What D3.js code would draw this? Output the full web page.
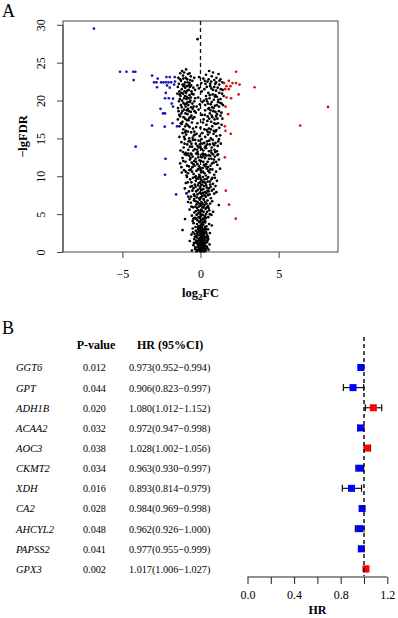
<!DOCTYPE html>
<html lang="en">
<head>
    <meta charset="UTF-8">
    <title>Volcano and forest plot</title>
    <script src="https://cdn.jsdelivr.net/npm/d3@7"></script>
    <style>
        body{
            margin:0;
            background:#fff;
        }
        text{
            font-family: 'Liberation Serif', 'Times New Roman', serif;
            fill:#000;
        }
        .panel{ font-size:18px; }
        .eje{ font-size:12.5px; font-weight:700; }
        .gen{ font-size:10.5px; font-style:italic; }
        .celda{ font-size:10.2px; }
        .cabecera{ font-size:12px; font-weight:700; }
    </style>
</head>
<body>
<div id="grafico"></div>

<script>
// ---- volcano data: [log2FC, -lgFDR] ----
var downGenes = [[-6.82,29.5],[-5.15,23.8],[-4.74,23.8],[-4.30,23.8],[-4.17,23.8],[-4.28,22.7],
    [-3.10,23.3],[-2.74,22.9],[-2.97,22.4],[-2.82,22.4],[-2.52,22.4],[-2.37,22.4],[-2.22,22.4],
    [-2.05,22.4],[-1.88,22.4],[-2.18,23.1],[-1.97,23.1],[-1.65,23.1],[-2.78,21.75],[-2.14,22.0],
    [-1.97,21.7],[-1.63,22.5],[-1.69,22.1],[-2.22,21.0],[-2.27,20.3],[-2.03,20.3],[-1.76,20.25],
    [-1.84,19.6],[-1.76,19.2],[-2.56,18.9],[-2.40,18.3],[-2.27,18.3],[-3.10,16.7],[-2.29,16.55],
    [-1.79,17.0],[-1.50,16.6],[-4.15,13.9],[-2.24,12.3],[-2.27,10.2],[-1.56,7.6],[-0.88,7.75]];

var upGenes = [[2.28,23.8],[1.51,22.3],[1.81,22.6],[2.05,22.3],[2.28,22.3],[2.50,22.1],[1.67,21.9],
    [1.92,21.9],[3.46,21.75],[1.58,21.5],[1.81,21.5],[2.44,20.8],[1.67,20.4],[1.96,20.3],[1.60,19.2],
    [8.16,19.15],[1.77,18.2],[6.38,16.7],[1.56,16.6],[1.60,16.0],[1.94,15.6],[1.56,12.5],[1.62,8.1],
    [1.83,6.25],[2.26,4.4]];

var otherGenes = [[-0.19,28.1],
    // y 22-24
    [-1.42,23.0],[-1.30,23.6],[-1.18,23.9],[-1.05,23.7],[-0.92,24.1],[-0.80,23.5],[-1.25,22.6],[-1.10,22.9],
    [-0.98,22.4],[-0.85,22.8],[-0.70,22.3],[-0.62,23.2],[-1.38,22.2],[-0.52,22.6],[-1.15,22.1],[-0.75,22.0],
    [-0.40,23.0],[0.35,23.4],[0.55,23.9],[0.72,23.2],[0.88,22.7],[1.02,23.0],[1.15,23.5],[1.28,22.8],
    [1.40,22.4],[0.45,22.5],[0.62,22.2],[0.95,22.2],[1.20,22.1],[0.28,22.6],[0.80,23.7],[-0.09,23.1],
    [0.05,22.3],[-0.20,22.0],
    // y 19-22
    [-1.45,21.8],[-1.35,21.2],[-1.28,20.6],[-1.20,21.5],[-1.12,20.9],[-1.05,20.3],[-0.98,21.7],[-0.92,21.0],
    [-0.88,20.5],[-0.82,19.8],[-0.75,21.4],[-0.70,20.7],[-0.65,20.0],[-0.58,21.2],[-0.52,19.6],[-0.45,20.8],
    [-1.38,19.9],[-1.25,19.4],[-1.10,19.7],[-0.95,19.2],[-0.78,19.4],[-0.60,19.1],[-1.32,20.2],[-1.00,20.6],
    [-0.85,21.3],[-1.18,20.0],[-0.68,21.8],[-0.40,19.9],[-1.48,20.9],[-0.35,21.4],[-1.08,21.9],[-0.90,19.6],
    [-0.15,20.4],[0.08,21.2],[-0.05,19.5],[0.12,19.8],
    [0.25,21.5],[0.35,20.6],[0.42,19.9],[0.50,21.0],[0.58,20.3],[0.65,19.5],[0.70,21.6],[0.78,20.8],
    [0.85,20.1],[0.92,19.3],[1.00,21.3],[1.05,20.5],[1.12,19.8],[1.20,21.0],[1.28,20.2],[1.35,19.6],
    [1.42,21.4],[0.30,19.4],[0.55,19.0],[0.88,21.8],[1.18,19.2],[0.62,21.9],[1.48,20.6],[0.75,19.1],
    [0.95,20.7],[0.40,21.8],
    // y 16-19
    [-1.40,18.6],[-1.30,17.9],[-1.22,18.3],[-1.15,17.2],[-1.05,18.8],[-0.98,17.6],[-0.90,16.9],[-0.84,18.2],
    [-0.76,17.4],[-0.70,16.5],[-0.62,18.5],[-0.55,17.1],[-0.48,16.3],[-0.40,17.8],[-1.35,16.6],[-1.10,16.2],
    [-0.95,16.0],[-0.80,16.7],[-0.65,17.8],[-0.30,18.4],[-1.20,16.9],[-0.50,18.9],[-1.45,17.5],[-0.88,18.7],
    [-0.20,17.0],[0.00,16.4],[0.10,18.1],[-0.12,18.8],
    [0.20,17.5],[0.30,18.7],[0.38,16.8],[0.46,17.9],[0.54,16.3],[0.60,18.3],[0.68,17.2],[0.75,16.6],
    [0.82,18.6],[0.90,17.5],[0.98,16.9],[1.05,18.2],[1.12,17.0],[1.20,16.4],[1.28,18.0],[1.35,16.8],
    [0.25,16.2],[0.50,18.9],[0.72,18.0],[1.02,16.1],[1.40,17.6],[0.85,16.0],[0.40,16.1],
    // lobes, second pass
    [-1.44,19.0],[-1.36,18.1],[-1.30,22.8],[-1.26,17.0],[-1.22,21.0],[-1.16,18.6],[-1.12,23.3],[-1.08,17.8],
    [-1.04,22.1],[-1.00,19.5],[-0.96,18.3],[-0.94,23.0],[-0.90,20.2],[-0.86,17.4],[-0.82,22.4],[-0.80,18.9],
    [-0.76,20.3],[-0.72,17.7],[-0.68,19.8],[-0.66,22.7],[-0.62,20.4],[-0.58,18.0],[-0.55,20.9],[-0.50,17.6],
    [-0.46,21.7],[-0.44,19.2],[-0.38,18.6],[-0.34,20.3],[-1.02,21.2],[-1.20,19.1],[-0.74,18.6],[-0.88,21.9],
    [-1.34,20.8],[-0.60,22.0],[-0.98,16.6],[-0.70,23.6],
    [0.22,20.0],[0.28,18.1],[0.32,22.2],[0.38,20.2],[0.44,17.3],[0.48,19.6],[0.52,22.8],[0.56,17.6],
    [0.60,20.7],[0.64,18.7],[0.68,22.5],[0.72,19.8],[0.76,17.8],[0.80,21.4],[0.84,19.0],[0.88,17.0],
    [0.92,20.5],[0.96,18.5],[1.00,22.4],[1.04,19.4],[1.08,17.6],[1.10,21.7],[1.14,20.1],[1.18,18.6],
    [1.22,22.6],[1.26,19.7],[1.30,21.5],[1.34,18.4],[1.38,20.9],[1.44,19.4],[0.66,16.2],[1.00,17.9],
    [-0.25,19.2],[0.15,17.1],[-0.10,21.6],[0.18,22.9],[-0.28,16.5],
    // y 13-16
    [-1.35,15.2],[-1.22,14.5],[-1.15,15.7],[-1.08,13.8],[-1.00,14.9],[-0.92,15.5],[-0.85,14.2],[-0.78,13.5],
    [-0.72,15.0],[-0.66,14.6],[-0.60,15.8],[-0.54,13.9],[-0.48,14.8],[-0.42,15.4],[-0.36,13.6],[-0.30,14.3],
    [-0.25,15.6],[-0.18,13.2],[-0.12,14.7],[-0.06,15.3],[0.00,13.9],[0.06,14.9],[0.12,15.7],[0.18,13.4],
    [0.24,14.4],[0.30,15.2],[0.36,13.7],[0.42,14.6],[0.48,15.5],[0.54,13.3],[0.60,14.2],[0.66,15.0],
    [0.72,13.8],[0.78,14.8],[0.84,15.6],[0.90,13.5],[0.96,14.4],[1.02,15.3],[1.10,14.0],[1.18,14.9],
    [1.26,15.4],[-1.28,13.4],[-0.95,13.1],[-0.62,13.0],[-0.40,15.9],[-0.20,14.0],[0.15,13.0],[0.45,15.9],
    [0.70,13.1],[1.05,13.3],[-0.82,15.9],[-0.50,15.1],[0.33,14.0],[0.88,14.1],[-1.05,15.2],[0.58,15.8],
    [-0.28,13.0],[0.08,13.6],[-0.68,13.9],[1.30,14.3],
    // y 10-13
    [-1.30,11.7],[-1.15,12.4],[-1.05,10.8],[-0.96,11.9],[-0.88,12.8],[-0.80,10.4],[-0.74,11.3],[-0.68,12.2],
    [-0.62,10.9],[-0.56,11.8],[-0.50,12.6],[-0.44,10.3],[-0.38,11.4],[-0.32,12.3],[-0.26,10.7],[-0.20,11.6],
    [-0.14,12.5],[-0.08,10.2],[-0.02,11.1],[0.04,12.0],[0.10,12.9],[0.16,10.6],[0.22,11.5],[0.28,12.4],
    [0.34,10.1],[0.40,11.0],[0.46,11.9],[0.52,12.8],[0.58,10.5],[0.64,11.4],[0.70,12.3],[0.76,10.9],
    [0.84,11.8],[0.92,12.6],[1.00,10.6],[1.08,11.5],[1.18,12.2],[1.25,11.0],[-1.20,10.5],[-0.90,10.1],
    [-0.58,12.9],[-0.30,10.0],[0.05,10.5],[0.30,12.9],[0.62,12.7],[0.88,10.2],[-0.45,11.6],[0.18,11.9],
    [-0.10,11.3],[0.50,10.7],[-0.72,12.7],[0.80,12.9],[-0.16,12.9],[0.36,11.6],[-0.54,10.6],[1.12,12.9],
    [-1.00,12.9],
    // y 10-16, second pass
    [-1.22,11.2],[-1.10,12.0],[-1.02,14.3],[-0.94,10.6],[-0.86,11.4],[-0.80,13.0],[-0.76,14.6],[-0.70,10.8],
    [-0.64,12.4],[-0.58,14.3],[-0.52,11.2],[-0.46,13.4],[-0.40,12.0],[-0.34,14.8],[-0.28,11.9],[-0.22,13.5],
    [-0.16,10.9],[-0.12,13.8],[-0.06,12.1],[-0.04,14.2],[0.02,10.8],[0.08,12.5],[0.12,14.3],[0.14,11.1],
    [0.20,12.7],[0.26,10.4],[0.28,13.8],[0.32,11.3],[0.38,12.7],[0.44,14.2],[0.48,11.2],[0.54,12.3],
    [0.56,14.7],[0.62,10.9],[0.68,13.4],[0.74,11.7],[0.80,14.3],[0.86,12.2],[0.94,13.2],[1.00,11.9],
    [1.08,12.8],[1.14,14.6],[-1.12,13.2],[-0.98,15.8],[0.96,15.9],[-0.36,15.5],
    // y 7-10
    [-1.00,8.4],[-0.90,7.75],[-0.82,9.2],[-0.74,8.0],[-0.66,9.6],[-0.60,7.3],[-0.54,8.7],[-0.48,9.8],
    [-0.42,7.6],[-0.36,8.9],[-0.30,9.4],[-0.24,7.2],[-0.18,8.2],[-0.12,9.1],[-0.06,7.8],[0.00,8.6],
    [0.06,9.5],[0.12,7.4],[0.18,8.3],[0.24,9.2],[0.30,7.9],[0.36,8.8],[0.42,9.7],[0.48,7.5],
    [0.54,8.4],[0.60,9.3],[0.66,7.1],[0.72,8.1],[0.80,9.0],[0.88,7.7],[0.96,8.7],[1.05,9.4],
    [-0.70,7.0],[-0.40,7.0],[-0.10,9.9],[0.20,7.0],[0.50,9.9],[0.76,9.8],[-0.86,9.9],[0.03,7.2],
    [-0.28,8.0],[0.33,7.3],[0.10,8.9],[-0.15,9.7],[0.27,9.6],[-0.52,8.1],[0.65,8.6],[-0.02,9.2],
    [0.45,8.1],[-0.35,9.9],[0.15,9.9],
    [-0.65,8.6],[-0.58,9.2],[-0.45,8.4],[-0.38,7.4],[-0.32,8.6],[-0.26,9.7],[-0.20,7.6],[-0.16,8.8],
    [-0.08,7.1],[-0.04,8.4],[0.02,9.6],[0.04,7.7],[0.08,8.2],[0.14,9.3],[0.16,7.8],[0.22,8.7],
    [0.26,7.5],[0.32,9.1],[0.38,7.8],[0.40,8.5],[0.46,9.3],[0.52,8.0],[0.58,7.6],[0.62,8.9],
    [0.70,9.6],[0.84,8.3],[-0.94,9.1],[-0.78,7.3],[0.92,9.8],[1.02,7.9],
    // y 4-7
    [-0.99,4.35],[-0.70,5.6],[-0.62,6.5],[-0.55,4.8],[-0.48,5.9],[-0.42,6.8],[-0.36,4.5],[-0.30,5.4],
    [-0.25,6.3],[-0.20,4.2],[-0.15,5.1],[-0.10,6.0],[-0.05,6.9],[0.00,4.7],[0.05,5.6],[0.10,6.5],
    [0.15,4.4],[0.20,5.3],[0.25,6.2],[0.30,4.1],[0.35,5.0],[0.40,5.9],[0.45,6.8],[0.50,4.6],
    [0.56,5.5],[0.62,6.4],[0.70,4.9],[0.81,5.3],[1.17,6.2],[-0.80,6.6],[-0.50,4.1],[-0.08,4.0],
    [0.22,6.9],[0.08,4.9],[-0.18,6.6],[0.38,6.4],[-0.33,6.0],[0.28,4.7],[0.60,5.0],[-0.02,5.3],
    [0.12,5.9],[-0.25,4.9],[0.48,6.1],[-0.40,5.2],[0.18,4.0],[0.02,6.2],[-0.12,4.6],[0.32,5.7],
    [-0.58,6.0],[0.75,6.7],
    [0.05,4.2],[-0.05,4.5],[0.14,4.9],[0.24,4.4],[-0.14,5.5],[0.10,5.4],[0.34,4.5],[0.42,5.3],
    [-0.28,4.4],[0.20,5.9],[-0.22,5.8],[0.06,6.6],[0.30,6.6],[-0.08,6.4],[0.52,5.8],[-0.45,4.4],
    [0.16,6.3],[-0.30,6.7],[0.01,5.0],
    // y 2-4
    [-1.15,2.9],[-0.50,3.1],[-0.44,3.8],[-0.38,2.4],[-0.32,3.3],[-0.27,2.1],[-0.22,3.7],[-0.18,2.6],
    [-0.14,3.4],[-0.10,2.2],[-0.06,3.0],[-0.02,3.9],[0.02,2.5],[0.06,3.2],[0.10,2.0],[0.14,2.8],
    [0.18,3.6],[0.22,2.3],[0.26,3.1],[0.30,3.9],[0.34,2.7],[0.38,3.4],[0.42,2.2],[0.48,3.0],
    [0.55,3.7],[0.72,3.5],[0.60,2.5],[-0.58,2.3],[0.00,3.5],[0.12,3.8],[-0.08,2.7],[0.20,2.9],
    [0.04,2.1],[-0.16,3.0],[0.28,2.5],[0.08,3.6],[-0.30,2.8],[0.16,2.4],[-0.04,3.3],[0.36,3.0],
    // y 0-2
    [-0.69,1.45],[-0.45,0.9],[-0.40,1.7],[-0.35,0.4],[-0.30,1.2],[-0.26,0.1],[-0.22,1.9],[-0.18,0.7],
    [-0.14,1.5],[-0.11,0.3],[-0.08,1.1],[-0.05,1.8],[-0.02,0.5],[0.01,1.3],[0.04,0.2],[0.07,1.0],
    [0.10,1.7],[0.13,0.6],[0.16,1.4],[0.19,0.1],[0.22,0.9],[0.25,1.6],[0.28,0.4],[0.32,1.2],
    [0.36,1.9],[0.40,0.7],[0.45,1.5],[0.52,0.3],[0.58,1.0],[-0.55,0.2],[0.00,0.05],[0.05,0.75],
    [0.11,0.15],[-0.06,0.9],[0.18,1.15],[0.08,1.55],[-0.12,0.55],[0.21,0.45],[0.14,1.95],[0.02,1.65],
    [-0.20,1.3],[0.30,0.85],[0.24,0.1],[-0.03,0.25],[0.09,0.45],[0.16,0.8],
    // y 0-4, second pass
    [-0.33,0.6],[-0.28,1.5],[-0.24,0.3],[-0.21,2.4],[-0.17,1.0],[-0.15,3.2],[-0.13,0.2],[-0.10,1.6],
    [-0.09,2.8],[-0.07,0.4],[-0.04,1.2],[-0.03,2.3],[-0.01,3.1],[0.00,0.6],[0.02,1.9],[0.03,2.9],
    [0.05,0.35],[0.06,1.4],[0.07,2.6],[0.09,3.3],[0.10,0.9],[0.12,2.2],[0.13,1.2],[0.15,3.0],
    [0.17,0.5],[0.19,1.8],[0.20,2.6],[0.23,1.3],[0.26,2.0],[0.27,0.7],[0.29,3.3],[0.31,1.6],
    [0.34,0.2],[0.38,2.5],[0.41,1.3],[0.44,0.5],[0.47,2.0],[-0.36,2.0],[-0.42,1.2],[-0.48,2.6],
    [0.50,1.7]];

var volcanoXTicks = [-5, 0, 5];
var volcanoYTicks = [0, 5, 10, 15, 20, 25, 30];

// ---- forest data ----
var genes = ["GGT6","GPT","ADH1B","ACAA2","AOC3","CKMT2","XDH","CA2","AHCYL2","PAPSS2","GPX3"];
var pValues = ["0.012","0.044","0.020","0.032","0.038","0.034","0.016","0.028","0.048","0.041","0.002"];
var hr = [0.973,0.906,1.080,0.972,1.028,0.963,0.893,0.984,0.962,0.977,1.017];
var hrLow = [0.952,0.823,1.012,0.947,1.002,0.930,0.814,0.969,0.926,0.955,1.006];
var hrHigh = [0.994,0.997,1.152,0.998,1.056,0.997,0.979,0.998,1.000,0.999,1.027];
var hrTicks = [0, 0.2, 0.4, 0.6, 0.8, 1.0, 1.2];
var hrTickLabels = ["0.0", "", "0.4", "", "0.8", "", "1.2"];

var w = 398, h = 618;
var fuente = "'Liberation Serif', 'Times New Roman', serif";

var svg = d3.select("#grafico")
    .append("svg")
    .attr("width", w)
    .attr("height", h);

// ================= A: volcano =================
var xScale = d3.scaleLinear().domain([-8.8, 8.8]).range([63, 338]);
var yScale = d3.scaleLinear().domain([0, 30.5]).range([252, 21]);

svg.append("text").attr("class", "panel").attr("x", 2).attr("y", 17).text("A");

// caja
svg.append("rect")
    .attr("x", 63).attr("y", 21)
    .attr("width", 338 - 63).attr("height", 252 - 21)
    .attr("fill", "none").attr("stroke", "#444").attr("stroke-width", 1);

var ejeX = svg.append("g")
    .attr("transform", "translate(0,252)")
    .call(d3.axisBottom(xScale).tickValues(volcanoXTicks)
        .tickFormat(function(d){ return String(d).replace("-", "\u2212"); })
        .tickSize(6).tickPadding(11));
ejeX.select(".domain").remove();

var ejeY = svg.append("g")
    .attr("transform", "translate(63,0)")
    .call(d3.axisLeft(yScale).tickValues(volcanoYTicks).tickSize(6).tickPadding(0));
ejeY.select(".domain").attr("d", "M0," + yScale(0) + "V" + yScale(30));
ejeY.selectAll(".tick text")
    .attr("transform", "rotate(-90)")
    .attr("x", 0).attr("y", -18)
    .attr("dy", "0")
    .attr("text-anchor", "middle");

svg.selectAll(".tick line, .domain").attr("stroke", "#444");
svg.selectAll(".tick text").attr("fill", "#222")
    .style("font-family", fuente).style("font-size", "12px");

// etiquetas de ejes
var labX = svg.append("text").attr("class", "eje")
    .attr("x", xScale(0)).attr("y", 297).attr("text-anchor", "middle");
labX.append("tspan").text("log");
labX.append("tspan").attr("font-size", "9px").attr("dy", 3).text("2");
labX.append("tspan").attr("dy", -3).text("FC");

svg.append("text").attr("class", "eje")
    .attr("transform", "translate(26.5," + ((21 + 252) / 2) + ") rotate(-90)")
    .attr("text-anchor", "middle")
    .text("\u2212lgFDR");

// linea vertical en 0
svg.append("line")
    .attr("x1", xScale(0)).attr("x2", xScale(0))
    .attr("y1", 21).attr("y2", 252)
    .attr("stroke", "#111").attr("stroke-width", 1.3)
    .attr("stroke-dasharray", "4,3");

function puntos(data, color){
    svg.append("g").selectAll("circle")
        .data(data)
        .enter()
        .append("circle")
        .attr("cx", function(d){ return xScale(d[0]); })
        .attr("cy", function(d){ return yScale(d[1]); })
        .attr("r", 1.35)
        .attr("fill", color);
}
puntos(otherGenes, "#000");
puntos(downGenes, "#1414c4");
puntos(upGenes, "#d01414");

// ================= B: forest =================
var hrScale = d3.scaleLinear().domain([0, 1.2]).range([247.5, 387.3]);
var rowScale = d3.scaleBand().domain(genes).range([357.4, 579]).paddingInner(0);
function rowY(g){ return rowScale(g) + rowScale.bandwidth() / 2; }

svg.append("text").attr("class", "panel").attr("x", 2).attr("y", 334).text("B");

svg.append("text").attr("class", "cabecera").attr("x", 96).attr("y", 349).attr("text-anchor", "middle").text("P-value");
svg.append("text").attr("class", "cabecera").attr("x", 137).attr("y", 349).text("HR (95%CI)");

var filas = svg.append("g").selectAll("g")
    .data(genes)
    .enter()
    .append("g")
    .attr("transform", function(d){ return "translate(0," + rowY(d) + ")"; });

filas.append("text").attr("class", "gen").attr("x", 16).attr("y", 4)
    .text(function(d){ return d; });
filas.append("text").attr("class", "celda").attr("x", 83).attr("y", 4)
    .text(function(d, i){ return pValues[i]; });
filas.append("text").attr("class", "celda").attr("x", 129).attr("y", 4)
    .text(function(d, i){ return d3.format(".3f")(hr[i]) + "(" + d3.format(".3f")(hrLow[i]) + "\u2212" + d3.format(".3f")(hrHigh[i]) + ")"; });

// linea de referencia HR = 1
svg.append("line")
    .attr("x1", hrScale(1)).attr("x2", hrScale(1))
    .attr("y1", 337).attr("y2", 576)
    .attr("stroke", "#111").attr("stroke-width", 1.5)
    .attr("stroke-dasharray", "4,3");

// intervalos
filas.append("line")
    .attr("x1", function(d, i){ return hrScale(hrLow[i]); })
    .attr("x2", function(d, i){ return hrScale(hrHigh[i]); })
    .attr("stroke", "#111").attr("stroke-width", 1.2);
filas.append("line")
    .attr("x1", function(d, i){ return hrScale(hrLow[i]); })
    .attr("x2", function(d, i){ return hrScale(hrLow[i]); })
    .attr("y1", -3.5).attr("y2", 3.5)
    .attr("stroke", "#111").attr("stroke-width", 1.2);
filas.append("line")
    .attr("x1", function(d, i){ return hrScale(hrHigh[i]); })
    .attr("x2", function(d, i){ return hrScale(hrHigh[i]); })
    .attr("y1", -3.5).attr("y2", 3.5)
    .attr("stroke", "#111").attr("stroke-width", 1.2);
filas.append("rect")
    .attr("x", function(d, i){ return hrScale(hr[i]) - 3.5; })
    .attr("y", -3.5)
    .attr("width", 7).attr("height", 7)
    .attr("fill", function(d, i){ return hr[i] > 1 ? "#ff0000" : "#0000ff"; });

var ejeHR = svg.append("g")
    .attr("transform", "translate(0,577)")
    .call(d3.axisBottom(hrScale).tickValues(hrTicks).tickSize(7).tickPadding(6)
        .tickFormat(function(d, i){ return hrTickLabels[i]; }));
ejeHR.select(".domain").attr("d", "M" + hrScale(0) + ",0H" + hrScale(1.2)).attr("stroke", "#222");
ejeHR.selectAll(".tick line").attr("stroke", "#222");
ejeHR.selectAll(".tick text").style("font-size", "12px").style("font-family", fuente).attr("fill", "#222");

svg.append("text").attr("class", "eje")
    .attr("x", hrScale(0.6)).attr("y", 614)
    .attr("text-anchor", "middle")
    .style("font-size", "12px")
    .text("HR");
</script>
</body>
</html>
